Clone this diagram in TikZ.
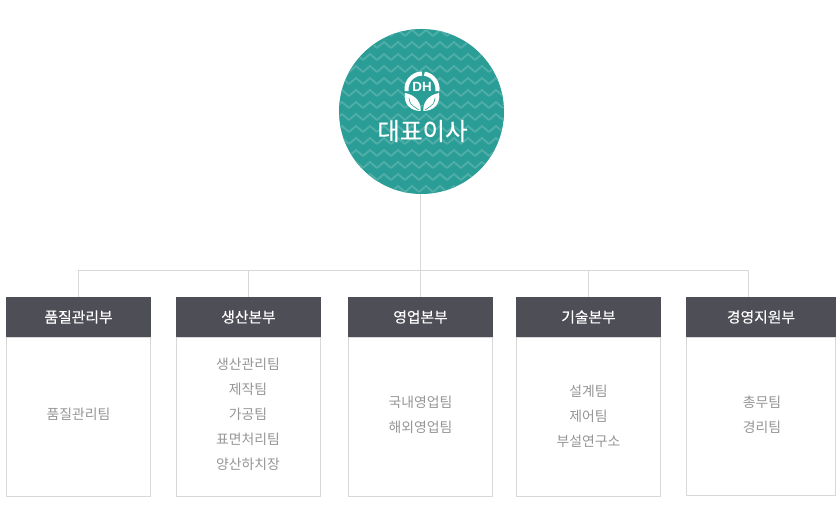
\documentclass[tikz,border=0pt]{standalone}
\usepackage{fontspec}
\setmainfont{Noto Sans CJK KR}
\newfontfamily\headfont[FakeBold=0.25]{Noto Sans CJK KR}
\newfontfamily\markfont{Liberation Sans}
\definecolor{teal1}{HTML}{2A9D96}
\definecolor{teal2}{HTML}{4FAEA7}
\definecolor{headgray}{HTML}{4E4E56}
\definecolor{linegray}{HTML}{D8D8D8}
\definecolor{textgray}{HTML}{969696}
\tikzset{
    link/.style={draw=linegray,line width=.75pt},
    headbox/.style={fill=headgray,text=white,minimum width=108.75pt,minimum height=30pt,inner sep=0pt,font=\headfont\fontsize{11.1pt}{13pt}\selectfont},
    listbox/.style={draw=linegray,fill=white,line width=.75pt,minimum width=108pt,minimum height=119pt,inner sep=0pt},
    listtext/.style={text=textgray,align=center,inner sep=0pt,font=\fontsize{10.4pt}{18.75pt}\selectfont},
    zigzag/.style={draw=teal2,line width=1.4pt,line join=miter}
}
\begin{document}
\begin{tikzpicture}[x=.75pt,y=-.75pt]

        \useasboundingbox (0,0) rectangle (840,505);

        % circle with its pattern
        \node[circle,fill=teal1,minimum size=123.75pt,inner sep=0pt] (board) at (421.5,111.5) {};
        \begin{scope}
            \clip (421.5,111.5) circle (82.5);
            \foreach \y in {36,48,...,204} {
                \foreach \x in {335,349,...,503} {
                    \draw[zigzag] (\x,\y) -- ++(7,-6) -- ++(7,6);
                }
            }
        \end{scope}

        % logo
        \fill[teal1] (422,89) circle (16);
        \draw[white,line width=3.1pt] (422,89) ++(172:15.5) arc (172:270:15.5);
        \draw[white,line width=3.1pt] (422,89) ++(279:15.5) arc (279:368:15.5);
        \fill[white] (405,93) .. controls (403,104) and (411,111) .. (420.5,111) .. controls (421.5,103) and (416,95) .. (405,93);
        \fill[white] (439,93) .. controls (441,104) and (433,111) .. (423.5,111) .. controls (422.5,103) and (428,95) .. (439,93);
        \draw[teal1,line width=.45pt] (409,98) .. controls (410,104) .. (419,110);
        \draw[teal1,line width=.45pt] (435,98) .. controls (434,104) .. (425,110);
        \node[text=white,inner sep=0pt,font=\markfont\bfseries\fontsize{10pt}{11pt}\selectfont] (mark) at (422,87) {DH};

        \node[text=white,inner sep=0pt,font=\headfont\fontsize{18.4pt}{22pt}\selectfont] (title) at (422.5,131) {대표이사};

        % lists
        \node[listbox] (lista) at (78.5,417) {};
        \node[listbox] (listb) at (248.5,417) {};
        \node[listbox] (listc) at (420.5,417) {};
        \node[listbox] (listd) at (588.5,417) {};
        \node[listbox,minimum width=111.75pt,minimum height=118.5pt] (liste) at (761,416.5) {};

        \node[headbox] (heada) at (78.5,317) {품질관리부};
        \node[headbox] (headb) at (248.5,317) {생산본부};
        \node[headbox] (headc) at (420.5,317) {영업본부};
        \node[headbox] (headd) at (588.5,317) {기술본부};
        \node[headbox,minimum width=112.5pt] (heade) at (761,317) {경영지원부};

        % connectors
        \coordinate (tape) at (748,297);
        \coordinate (bus) at (420.5,270.5);
        \draw[link] (headc.north) -- (headc.north |- board.south);
        \draw[link] (heada.north) |- (bus);
        \draw[link] (tape) |- (bus);
        \draw[link] (headb.north) -- (headb.north |- bus);
        \draw[link] (headd.north) -- (headd.north |- bus);

        \node[listtext] (itemsa) at (78.5,414) {품질관리팀};
        \node[listtext] (itemsb) at (248,414) {생산관리팀\\제작팀\\가공팀\\표면처리팀\\양산하치장};
        \node[listtext] (itemsc) at (420.5,414.5) {국내영업팀\\해외영업팀};
        \node[listtext] (itemsd) at (588.5,416) {설계팀\\제어팀\\부설연구소};
        \node[listtext] (itemse) at (762,414.5) {총무팀\\경리팀};

\end{tikzpicture}
\end{document}
